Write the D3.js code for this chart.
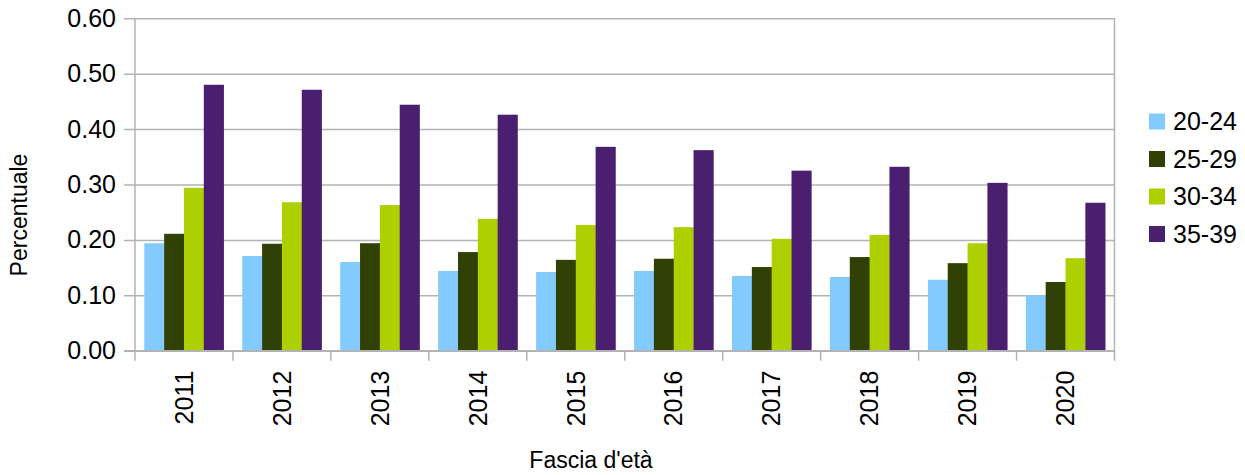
<!DOCTYPE html>
<html>
<head>
<meta charset="utf-8">
<script src="https://cdn.jsdelivr.net/npm/d3@7"></script>
<style>
  body { margin: 0; background: #fff; }
  svg { font-family: "Liberation Sans", Arial, sans-serif; }
  .axis path { display: none; }
  .axis line { stroke: #b3b3b3; stroke-width: 1.5; }
  .axis text { fill: #000; font-size: 25px; }
</style>
</head>
<body>
<svg></svg>
<script>
// data
var years = ["2011", "2012", "2013", "2014", "2015", "2016", "2017", "2018", "2019", "2020"];
var series = ["20-24", "25-29", "30-34", "35-39"];
var colors = ["#83caff", "#314004", "#aecf00", "#4b1f6f"];
var v2024 = [0.194, 0.171, 0.160, 0.144, 0.142, 0.144, 0.135, 0.133, 0.128, 0.100];
var v2529 = [0.211, 0.193, 0.194, 0.178, 0.164, 0.166, 0.151, 0.169, 0.158, 0.124];
var v3034 = [0.294, 0.268, 0.263, 0.238, 0.227, 0.223, 0.202, 0.209, 0.194, 0.167];
var v3539 = [0.480, 0.471, 0.444, 0.426, 0.368, 0.362, 0.325, 0.332, 0.303, 0.267];
var yTicks = [0, 0.1, 0.2, 0.3, 0.4, 0.5, 0.6];

var values = [v2024, v2529, v3034, v3539];

var svg = d3.select("svg").attr("width", 1245).attr("height", 475);

var plotLeft = 135, plotRight = 1114.5, plotTop = 18.3, plotBottom = 350.7;

var x = d3.scaleBand().domain(years).range([plotLeft, plotRight]);
var y = d3.scaleLinear().domain([0, 0.6]).range([plotBottom, plotTop]);
var xs = d3.scaleBand().domain(series).range([x.bandwidth() * 0.095, x.bandwidth() * 0.905]);

//gridlines + y labels
var yAxis = svg.append("g")
    .attr("class", "axis")
    .attr("transform", "translate(" + plotRight + ",0)")
    .call(d3.axisLeft(y).tickValues(yTicks).tickSize(plotRight - plotLeft + 11).tickPadding(8)
      .tickFormat(d3.format(".2f")));

//vertical frame lines
svg.append("line").attr("x1", plotLeft).attr("x2", plotLeft).attr("y1", plotTop).attr("y2", plotBottom + 10)
    .attr("stroke", "#b3b3b3").attr("stroke-width", 1.5);
svg.append("line").attr("x1", plotRight).attr("x2", plotRight).attr("y1", plotTop).attr("y2", plotBottom + 10)
    .attr("stroke", "#b3b3b3").attr("stroke-width", 1.5);

//category ticks
svg.selectAll(".ctick")
  .data(years.slice(1))
  .enter().append("line")
    .attr("x1", function(d) { return x(d); })
    .attr("x2", function(d) { return x(d); })
    .attr("y1", plotBottom)
    .attr("y2", plotBottom + 10)
    .attr("stroke", "#b3b3b3").attr("stroke-width", 1.5);

//bars
var groups = svg.selectAll(".group")
  .data(years)
  .enter().append("g")
    .attr("transform", function(d) { return "translate(" + x(d) + ",0)"; });

groups.selectAll("rect")
  .data(function(d, i) { return series.map(function(s, j) { return {s: s, j: j, v: values[j][i]}; }); })
  .enter().append("rect")
    .attr("x", function(d) { return xs(d.s); })
    .attr("width", xs.bandwidth() + 0.3)
    .attr("y", function(d) { return y(d.v); })
    .attr("height", function(d) { return plotBottom - y(d.v); })
    .attr("fill", function(d) { return colors[d.j]; });

//baseline on top
svg.append("line").attr("x1", plotLeft - 11).attr("x2", plotRight).attr("y1", plotBottom).attr("y2", plotBottom)
    .attr("stroke", "#b3b3b3").attr("stroke-width", 1.5);

//year labels
svg.selectAll(".ylab")
  .data(years)
  .enter().append("text")
    .attr("transform", function(d) { return "translate(" + (x(d) + x.bandwidth() / 2) + "," + (plotBottom + 20) + ") rotate(-90)"; })
    .attr("text-anchor", "end")
    .attr("dy", "0.35em")
    .attr("font-size", 25)
    .text(function(d) { return d; });

//axis titles
svg.append("text")
    .attr("x", 591).attr("y", 468)
    .attr("text-anchor", "middle")
    .attr("font-size", 23)
    .text("Fascia d'età");

svg.append("text")
    .attr("transform", "translate(27,215) rotate(-90)")
    .attr("text-anchor", "middle")
    .attr("font-size", 23)
    .text("Percentuale");

//legend
var legend = svg.selectAll(".legend")
  .data(series)
  .enter().append("g")
    .attr("transform", function(d, i) { return "translate(1149," + (113.5 + i * 37.5) + ")"; });

legend.append("rect")
    .attr("width", 16).attr("height", 16)
    .attr("fill", function(d, i) { return colors[i]; });

legend.append("text")
    .attr("x", 24).attr("y", 8)
    .attr("dy", "0.35em")
    .attr("font-size", 25)
    .text(function(d) { return d; });
</script>
</body>
</html>
